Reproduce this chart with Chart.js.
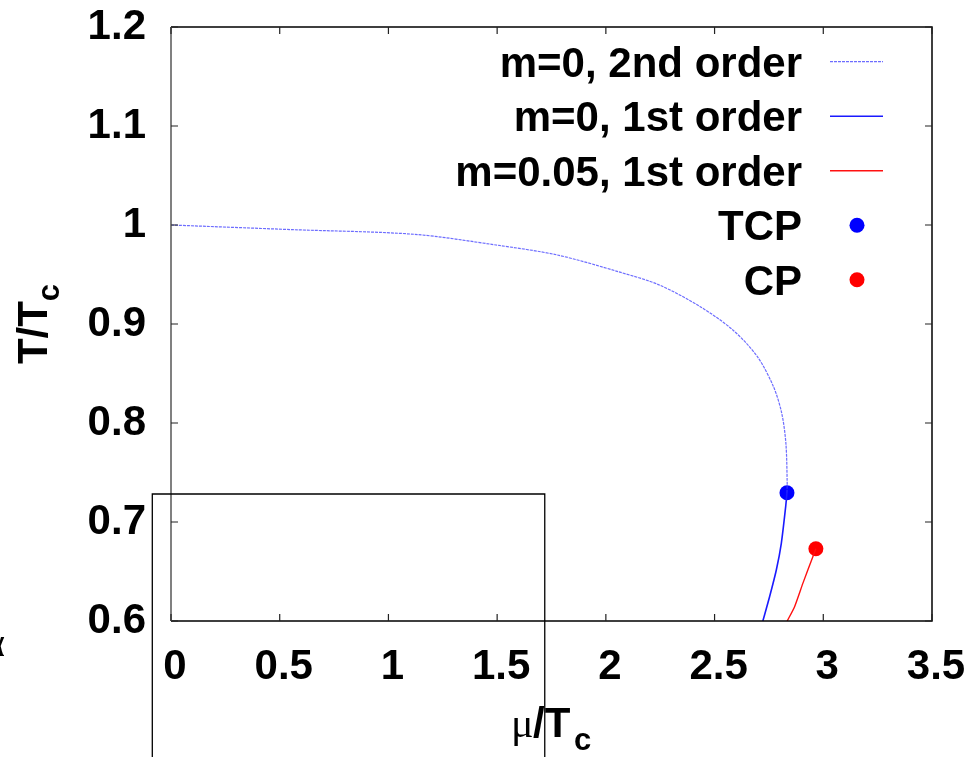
<!DOCTYPE html>
<html>
<head>
<meta charset="utf-8">
<script src="https://cdn.jsdelivr.net/npm/chart.js@4.4.1/dist/chart.umd.min.js"></script>
<style>
  html, body { margin: 0; padding: 0; background: #fff; }
  canvas { display: block; }
</style>
</head>
<body>
<canvas id="phase" width="980" height="757"></canvas>
<script>
'use strict';

// m=0 second order line, from mu=0 down to the tricritical point
var mu2nd = [0, 0.56, 1.12, 1.495, 1.777, 2.058, 2.246, 2.434, 2.584, 2.697, 2.771, 2.809, 2.828, 2.834, 2.833];
var t2nd  = [1.0, 0.9953, 0.9906, 0.9798, 0.9697, 0.9528, 0.9394, 0.9175, 0.894, 0.867, 0.8367, 0.8098, 0.7795, 0.7394, 0.7296];

// m=0 first order line below the TCP
var mu1st = [2.833, 2.827, 2.807, 2.784, 2.753, 2.722];
var t1st  = [0.7296, 0.7155, 0.6785, 0.6515, 0.6245, 0.6];

// m=0.05 first order line below the CP
var muMass = [2.966, 2.952, 2.906, 2.868, 2.834];
var tMass  = [0.673, 0.665, 0.638, 0.6145, 0.6];

var tcpPoint = [2.833, 0.7296];
var cpPoint  = [2.966, 0.673];

var xTickLabels = ['0', '0.5', '1', '1.5', '2', '2.5', '3', '3.5'];
var yTickLabels = ['0.6', '0.7', '0.8', '0.9', '1', '1.1', '1.2'];

// frame of the inset panel that overlaps the lower left (data units)
var insetBox = [-0.086, 1.719, 0.7283];

var FONT = '"Liberation Sans", Arial, Helvetica, sans-serif';
var SERIF = '"Liberation Serif", "DejaVu Serif", serif';

function pts(xs, ys) {
    return xs.map(function(x, i) { return { x: x, y: ys[i] }; });
}

var gnuFrame = {
    id: 'gnuFrame',
    afterDatasetsDraw: function(chart) {
        var ctx = chart.ctx;
        var a = chart.chartArea;
        var xs = chart.scales.x, ys = chart.scales.y;
        ctx.save();
        // border
        ctx.strokeStyle = '#000';
        ctx.lineWidth = 1.5;
        ctx.beginPath();
        ctx.moveTo(a.left, a.top);
        ctx.lineTo(a.right, a.top);
        ctx.lineTo(a.right, a.bottom);
        ctx.lineTo(a.left, a.bottom);
        ctx.stroke();
        ctx.strokeStyle = '#808080';
        ctx.lineWidth = 2;
        ctx.beginPath();
        ctx.moveTo(a.left, a.top);
        ctx.lineTo(a.left, a.bottom);
        ctx.stroke();

        // inward ticks on all four sides
        ctx.strokeStyle = '#222';
        ctx.lineWidth = 1.2;
        ctx.beginPath();
        xs.ticks.forEach(function(t) {
            var px = xs.getPixelForValue(t.value);
            ctx.moveTo(px, a.bottom); ctx.lineTo(px, a.bottom - 7);
            ctx.moveTo(px, a.top); ctx.lineTo(px, a.top + 7);
        });
        ys.ticks.forEach(function(t) {
            var py = ys.getPixelForValue(t.value);
            ctx.moveTo(a.left, py); ctx.lineTo(a.left + 7, py);
            ctx.moveTo(a.right, py); ctx.lineTo(a.right - 7, py);
        });
        ctx.stroke();
        ctx.restore();
    },
    afterDraw: function(chart) {
        var ctx = chart.ctx;
        var a = chart.chartArea;
        var xs = chart.scales.x, ys = chart.scales.y;
        ctx.save();

        // key, gnuplot style: text right-aligned, sample to the right
        var rowY = 61.7, rowStep = 54.5;
        ctx.font = 'bold 42px ' + FONT;
        ctx.textAlign = 'right';
        ctx.textBaseline = 'alphabetic';
        chart.data.datasets.forEach(function(ds, i) {
            var y = rowY + rowStep * i;
            ctx.fillStyle = '#000';
            ctx.fillText(ds.label, 802, y + 15);
            if (ds.showLine) {
                ctx.strokeStyle = ds.borderColor;
                ctx.lineWidth = ds.borderWidth;
                ctx.setLineDash(ds.borderDash || []);
                ctx.beginPath();
                ctx.moveTo(830, y);
                ctx.lineTo(883, y);
                ctx.stroke();
                ctx.setLineDash([]);
            } else {
                ctx.fillStyle = ds.pointBackgroundColor;
                ctx.beginPath();
                ctx.arc(857, y, ds.pointRadius, 0, Math.PI * 2);
                ctx.fill();
            }
        });

        // axis titles
        ctx.fillStyle = '#000';
        ctx.textAlign = 'left';
        ctx.font = '42px ' + SERIF;
        ctx.fillText('\u03bc', 511, 737);
        ctx.font = 'bold 42px ' + FONT;
        ctx.fillText('/T', 533, 737);
        ctx.font = 'bold 31px ' + FONT;
        ctx.fillText('c', 574, 750);

        ctx.save();
        ctx.translate(47, (a.top + a.bottom) / 2);
        ctx.rotate(-Math.PI / 2);
        ctx.font = 'bold 42px ' + FONT;
        var wTT = ctx.measureText('T/T').width;
        ctx.font = 'bold 31px ' + FONT;
        var wc2 = ctx.measureText('c').width;
        var s = -(wTT + wc2) / 2;
        ctx.font = 'bold 42px ' + FONT;
        ctx.fillText('T/T', s, 0);
        ctx.font = 'bold 31px ' + FONT;
        ctx.fillText('c', s + wTT, 12);
        ctx.restore();

        // inset frame
        var bl = xs.getPixelForValue(insetBox[0]);
        var br = xs.getPixelForValue(insetBox[1]);
        var bt = ys.getPixelForValue(insetBox[2]);
        ctx.strokeStyle = '#000';
        ctx.lineWidth = 1.3;
        ctx.beginPath();
        ctx.moveTo(bl, chart.height + 2);
        ctx.lineTo(bl, bt);
        ctx.lineTo(br, bt);
        ctx.lineTo(br, chart.height + 2);
        ctx.stroke();

        // stray glyph cut by the left edge
        ctx.font = '40px ' + SERIF;
        ctx.textAlign = 'right';
        ctx.fillText('\u03b1', 5, 656);
        ctx.restore();
    }
};

function noPad(scale) {
    scale.paddingTop = 0;
    scale.paddingBottom = 0;
    scale.paddingLeft = 0;
    scale.paddingRight = 0;
}

var ctx = document.getElementById('phase').getContext('2d');
var chart = new Chart(ctx, {
    type: 'scatter',
    data: {
        datasets: [{
            label: 'm=0, 2nd order',
            data: pts(mu2nd, t2nd),
            showLine: true,
            borderColor: 'rgba(60, 60, 255, 0.75)',
            borderWidth: 1.2,
            borderDash: [3, 1],
            pointRadius: 0,
            tension: 0.3
        }, {
            label: 'm=0, 1st order',
            data: pts(mu1st, t1st),
            showLine: true,
            borderColor: '#1a1aff',
            borderWidth: 1.6,
            pointRadius: 0,
            tension: 0.25
        }, {
            label: 'm=0.05, 1st order',
            data: pts(muMass, tMass),
            showLine: true,
            borderColor: '#ff1010',
            borderWidth: 1.4,
            pointRadius: 0,
            tension: 0.2
        }, {
            label: 'TCP',
            data: [{ x: tcpPoint[0], y: tcpPoint[1] }],
            showLine: false,
            pointRadius: 7.5,
            pointBackgroundColor: '#0000ff',
            pointBorderWidth: 0
        }, {
            label: 'CP',
            data: [{ x: cpPoint[0], y: cpPoint[1] }],
            showLine: false,
            pointRadius: 7.5,
            pointBackgroundColor: '#ff0000',
            pointBorderWidth: 0
        }]
    },
    options: {
        responsive: false,
        animation: false,
        devicePixelRatio: 1,
        layout: { padding: { top: 27, right: 48, left: 0, bottom: 0 } },
        plugins: {
            legend: { display: false },
            tooltip: { enabled: false }
        },
        scales: {
            x: {
                type: 'linear',
                min: 0,
                max: 3.5,
                grid: { display: false, drawTicks: false },
                border: { display: false },
                ticks: {
                    stepSize: 0.5,
                    autoSkip: false,
                    maxRotation: 0,
                    padding: 21,
                    labelOffset: 4,
                    color: '#000',
                    font: { family: FONT, size: 42, weight: 'bold' },
                    callback: function(v, i) { return xTickLabels[i]; }
                },
                afterFit: function(scale) { scale.height = 136; noPad(scale); }
            },
            y: {
                type: 'linear',
                min: 0.6,
                max: 1.2,
                grid: { display: false, drawTicks: false },
                border: { display: false },
                ticks: {
                    stepSize: 0.1,
                    autoSkip: false,
                    padding: 25,
                    color: '#000',
                    font: { family: FONT, size: 42, weight: 'bold' },
                    callback: function(v, i) { return yTickLabels[i]; }
                },
                afterFit: function(scale) { scale.width = 171; noPad(scale); }
            }
        }
    },
    plugins: [gnuFrame]
});
</script>
</body>
</html>
